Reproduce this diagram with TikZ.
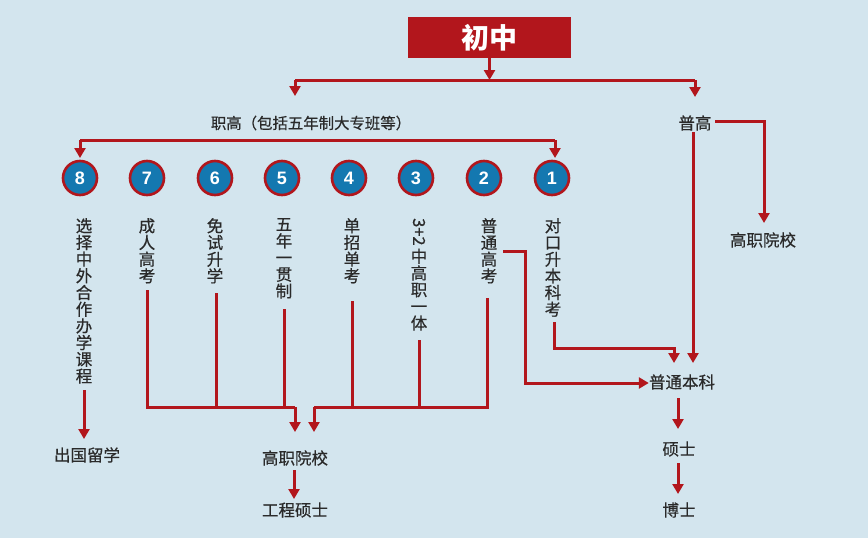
\documentclass[tikz,border=0pt]{standalone}
\usepackage{fontspec}
\setmainfont{Noto Sans CJK SC}
\newfontfamily\cjkm{Noto Sans CJK SC}[FakeBold=0.5]
\newfontfamily\numfont{Liberation Sans}
\usetikzlibrary{arrows.meta}
\definecolor{bgc}{HTML}{D3E5EE}
\definecolor{redc}{HTML}{B2161C}
\definecolor{bluec}{HTML}{1478B0}
\definecolor{txtc}{HTML}{2A2A2A}
\tikzset{
  ln/.style={draw=redc,line width=3pt},
  arr/.style={ln,-{Triangle[width=11pt,length=10pt]}},
  lbl/.style={text=txtc,font=\cjkm\fontsize{16.5}{16.7}\selectfont,inner sep=0pt},
  vtxt/.style={lbl,align=center,anchor=north},
  numc/.style={circle,fill=bluec,draw=redc,line width=2.6pt,minimum size=34pt,inner sep=0pt,
    text=white,font=\numfont\bfseries\fontsize{18}{18}\selectfont},
}
\begin{document}
\begin{tikzpicture}[x=1pt,y=-1pt]
\fill[bgc] (0,0) rectangle (868,538);
\useasboundingbox (0,0) rectangle (868,538);
% top box
\node[fill=redc,minimum width=163pt,minimum height=41pt,inner sep=0pt,text=white,
  font=\bfseries\fontsize{28}{28}\selectfont] (cz) at (489.5,37.5) {初中};
\node[lbl,font=\cjkm\fontsize{15.4}{16}\selectfont] (zg) at (311,123) {职高（包括五年制大专班等）};
\node[lbl] (pg) at (695,123) {普高};
% circles
\foreach \n/\x in {8/80,7/147,6/215,5/282,4/349,3/416,2/484,1/552}
  \node[numc] (c\n) at (\x,178) {\n};
% vertical texts
\node[vtxt] (t8) at (84,218) {选\\择\\中\\外\\合\\作\\办\\学\\课\\程};
\node[vtxt] (t7) at (147,218) {成\\人\\高\\考};
\node[vtxt] (t6) at (215,218) {免\\试\\升\\学};
\node[vtxt] (t5) at (284,218) {五\\年\\一\\贯\\制};
\node[vtxt] (t4) at (352,218) {单\\招\\单\\考};
\node[vtxt] (t3) at (419,218) {\rotatebox{-90}{3+2}\\[2pt]中\\高\\职\\一\\体};
\node[vtxt] (t2) at (489,218) {普\\通\\高\\考};
\node[vtxt] (t1) at (553,218) {对\\口\\升\\本\\科\\考};
% bottom nodes
\node[lbl] (gz) at (295,458) {高职院校};
\node[lbl] (gc) at (295,510) {工程硕士};
\node[lbl] (cg) at (87,455) {出国留学};
\node[lbl] (bk) at (682,382) {普通本科};
\node[lbl] (ss) at (679,449) {硕士};
\node[lbl] (bs) at (679,510) {博士};
\node[lbl] (gz2) at (763,240) {高职院校};
% coordinates
\coordinate (tl) at (295,80);
\coordinate (tr) at (695,80);
\coordinate (zl) at (80,140);
\coordinate (zr) at (555,140);
% top connectors
\draw[arr] (cz.south) -- (cz.south |- tl);
\draw[ln] (tl) -- (tr);
\draw[arr] (tl) -- ++(0,16);
\draw[arr] (tr) -- ++(0,17);
% zhigao line
\draw[ln] (zl) -- (zr);
\draw[arr] (zl) -- ++(0,18);
\draw[arr] (zr) -- ++(0,18);
% left group
\draw[ln] (147,290) -- (147,407) -- (295,407);
\draw[ln] (216,293) -- (216,407);
\draw[ln] (284,309) -- (284,407);
\draw[arr] (295,407) -- (295,432);
% right group
\draw[ln] (352,301) -- (352,407);
\draw[ln] (419,340) -- (419,407);
\draw[ln] (487,298) -- (487,407) -- (314,407);
\draw[arr] (314,407) -- (314,432);
% 普通高考 -> 普通本科
\draw[arr] (503,251) -- (525,251) -- (525,383) -- (bk.west |- 0,383);
% 对口 -> 普通本科
\draw[arr] (554,322) -- (554,348) -- (674,348) -- (674,363);
% 普高 -> 普通本科
\draw[arr] (693,132) -- (693,363);
% 普高 -> 高职院校
\draw[arr] (715,121) -- (764,121) -- (764,223);
% chains
\draw[arr] (678,398) -- (678,429);
\draw[arr] (678,463) -- (678,494);
\draw[arr] (294,470) -- (294,499);
\draw[arr] (84,390) -- (84,439);
\end{tikzpicture}
\end{document}
